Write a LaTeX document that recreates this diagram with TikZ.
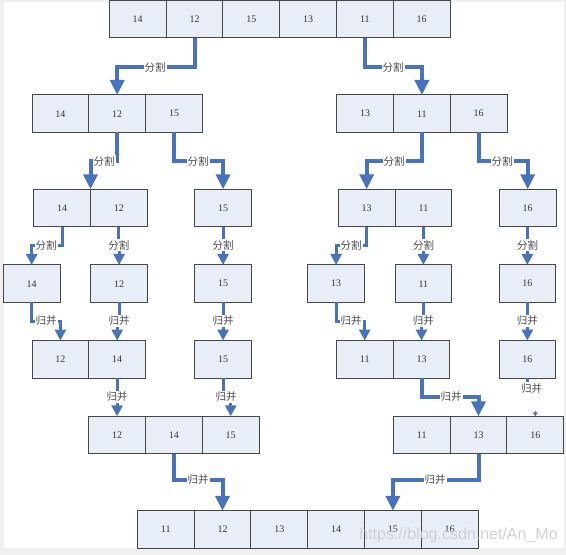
\documentclass[tikz,border=0pt]{standalone}
\usepackage{fontspec}
\setmainfont{Liberation Serif}
\newfontfamily\cjk{Noto Sans CJK SC}
\newfontfamily\wmfont{Liberation Sans}
\usetikzlibrary{arrows.meta}
\definecolor{cellfill}{RGB}{232,238,247}
\definecolor{cellline}{RGB}{70,70,70}
\definecolor{flowblue}{RGB}{70,114,190}
\definecolor{framegray}{RGB}{240,240,240}
\definecolor{wmgray}{RGB}{205,205,205}

\begin{document}
\begin{tikzpicture}[x=1pt,y=-1pt,
  cell/.style={draw=cellline,fill=cellfill,line width=1pt,minimum width=56.8pt,
    minimum height=37.5pt,inner sep=0pt,outer sep=0pt,
    font=\fontsize{10}{12}\selectfont,text=black!80},
  tag/.style={fill=white,inner sep=1pt,font=\cjk\fontsize{10.5}{12}\selectfont,text=black!70},
  bigflow/.style={draw=flowblue,line width=4pt,-{Triangle[length=15pt,width=14pt]}},
  smallflow/.style={draw=flowblue,line width=3pt,-{Triangle[length=11pt,width=11pt]}},
  tinyflow/.style={draw=flowblue,line width=1pt,-{Triangle[length=4pt,width=5pt]}}]
\useasboundingbox (0,0) rectangle (566,555);
% grey frame round the page
\fill[framegray] (0,0) rectangle (566,555);
\fill[white] (3.5,1.5) rectangle (564,548);
% row of cells: #1 = name prefix, #2 = left-x, #3 = centre-y, #4 = values
\newcommand{\cellrow}[4]{%
  \foreach \v [count=\k] in {#4}
    \node[cell] (#1\k) at ({#2+(\k-0.5)*56.8},#3) {\v};
}
% elbow connector: #1 = style, #2 = from, #3 = to, #4 = name, #5 = bend point, #6 = label
\newcommand{\elbow}[6]{%
  \coordinate (#4) at #5;
  \draw[#1] (#2) |- (#4) -| (#3);
  \node[tag] (#4t) at (#4) {#6};
}
% cells, top to bottom
\cellrow{t}{109.3}{19}{14,12,15,13,11,16}
\cellrow{r2a}{32}{113.7}{14,12,15}
\cellrow{r2b}{336.7}{113.7}{13,11,16}
\cellrow{r3a}{33.7}{208}{14,12}
\cellrow{r3b}{194.7}{208}{15}
\cellrow{r3c}{338.3}{208}{13,11}
\cellrow{r3d}{499.3}{208}{16}
\cellrow{r4a}{3.3}{283.7}{14}
\cellrow{r4b}{90.7}{283.7}{12}
\cellrow{r4c}{194.7}{283.7}{15}
\cellrow{r4d}{307.7}{283.7}{13}
\cellrow{r4e}{395}{283.7}{11}
\cellrow{r4f}{499}{283.7}{16}
\cellrow{r5a}{32}{359.3}{12,14}
\cellrow{r5b}{194.7}{359.3}{15}
\cellrow{r5c}{336.3}{359.3}{11,13}
\cellrow{r5d}{499}{359.3}{16}
\cellrow{r6a}{88.7}{435}{12,14,15}
\cellrow{r6b}{393.3}{435}{11,13,16}
\cellrow{r7a}{137.3}{529.5}{11,12,13,14,15,16}
% split
\elbow{bigflow}{t2.south}{r2a2.north}{s1}{(155,67)}{分割}
\elbow{bigflow}{t5.south}{r2b2.north}{s2}{(393,67)}{分割}
\elbow{bigflow}{r2a2.south}{r3a1.north east}{s3}{(104,161)}{分割}
\elbow{bigflow}{r2a3.south}{r3b1.north}{s4}{(198,161)}{分割}
\elbow{bigflow}{r2b2.south}{r3c1.north}{s5}{(394,161)}{分割}
\elbow{bigflow}{r2b3.south}{r3d1.north}{s6}{(502,161)}{分割}
\elbow{smallflow}{r3a1.south}{r4a1.north}{s7}{(46,245)}{分割}
\elbow{smallflow}{r3a2.south}{r4b1.north}{s8}{(118.9,245)}{分割}
\elbow{smallflow}{r3b1.south}{r4c1.north}{s9}{(223.1,245)}{分割}
\elbow{smallflow}{r3c1.south}{r4d1.north}{s10}{(351,245)}{分割}
\elbow{smallflow}{r3c2.south}{r4e1.north}{s11}{(423.5,245)}{分割}
\elbow{smallflow}{r3d1.south}{r4f1.north}{s12}{(527.7,245)}{分割}
% merge
\elbow{smallflow}{r4a1.south}{r5a1.north}{m1}{(46,321)}{归并}
\elbow{smallflow}{r4b1.south}{r5a2.north}{m2}{(119.1,321)}{归并}
\elbow{smallflow}{r4c1.south}{r5b1.north}{m3}{(223.1,321)}{归并}
\elbow{smallflow}{r4d1.south}{r5c1.north}{m4}{(351,321)}{归并}
\elbow{smallflow}{r4e1.south}{r5c2.north}{m5}{(423.4,321)}{归并}
\elbow{smallflow}{r4f1.south}{r5d1.north}{m6}{(527.4,321)}{归并}
\elbow{smallflow}{r5a2.south}{r6a1.north}{m7}{(117.2,397)}{归并}
\elbow{smallflow}{r5b1.south}{r6a3.north}{m8}{(226,397)}{归并}
\elbow{bigflow}{r5c2.south}{r6b2.north}{m9}{(451,397)}{归并}
% the broken one under 16
\coordinate (m10a) at ([yshift=-4pt]r5d1.south);
\draw[flowblue,line width=3pt] (r5d1.south) -- (m10a);
\node[tag] (m10t) at (531.7,389) {归并};
\coordinate (m10b) at ([yshift=5pt]r6b3.north);
\draw[tinyflow] (m10b) -- (r6b3.north);
\elbow{bigflow}{r6a2.south}{r7a2.north}{m11}{(198,480)}{归并}
\elbow{bigflow}{r6b2.south}{r7a5.north}{m12}{(435,480)}{归并}
% watermark
\node[anchor=base,font=\wmfont\fontsize{16}{18}\selectfont,text=wmgray,opacity=0.9,inner sep=0pt]
  (wm) at (458.5,539) {https://blog.csdn.net/An\_Mo};
\end{tikzpicture}
\end{document}
